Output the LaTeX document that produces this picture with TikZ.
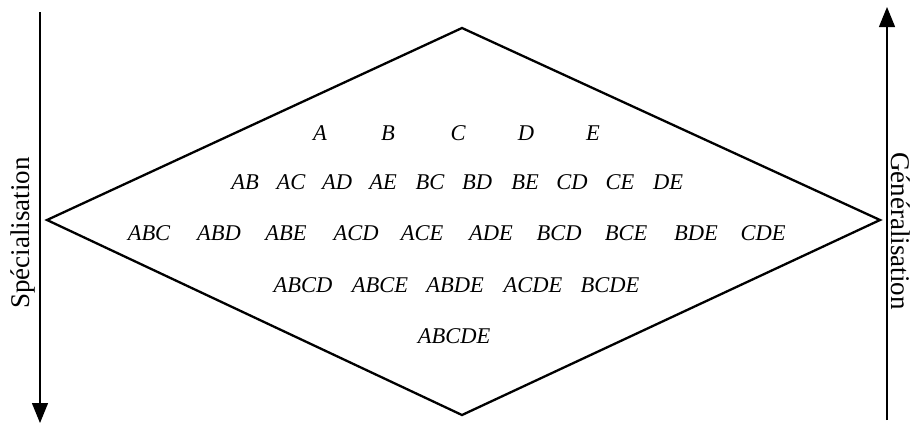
\documentclass[tikz,border=0pt]{standalone}
\usepackage{fontspec}
\setmainfont{Liberation Serif}
\usetikzlibrary{arrows.meta}

\begin{document}
\begin{tikzpicture}[
    x=1pt, y=-1pt,
    set/.style={font=\fontsize{22.5}{26}\selectfont\itshape, inner sep=0pt},
    side/.style={font=\fontsize{27}{31}\selectfont, inner sep=0pt, anchor=base},
    axis/.style={line width=1.3pt, -{Triangle[length=20pt, width=16pt]}},
    lattice/.style={line width=2.3pt, line join=miter}
]
\useasboundingbox (0,0) rectangle (912,424);

% Diamond
\coordinate (top) at (462,28);
\coordinate (right) at (880,220);
\coordinate (bottom) at (462,415);
\coordinate (left) at (47,220);
\draw[lattice] (top) -- (right) -- (bottom) -- (left) -- cycle;

% Itemsets, one row per size
\foreach \name/\x in {A/320, B/388, C/458, D/526, E/593}
  \node[set] (\name) at (\x,133) {\name};
\foreach \name/\x in {AB/245, AC/291, AD/337, AE/383, BC/430, BD/477, BE/525, CD/572, CE/620, DE/668}
  \node[set] (\name) at (\x,182) {\name};
\foreach \name/\x in {ABC/149, ABD/219, ABE/286, ACD/356, ACE/422, ADE/491, BCD/559, BCE/626, BDE/696, CDE/763}
  \node[set] (\name) at (\x,233) {\name};
\foreach \name/\x in {ABCD/303, ABCE/380, ABDE/455, ACDE/533, BCDE/610}
  \node[set] (\name) at (\x,285) {\name};
\node[set] (ABCDE) at (454,336) {ABCDE};

% Direction arrows
\coordinate (spec start) at (40,12);
\coordinate (spec end) at (40,423);
\coordinate (gen start) at (887,420);
\coordinate (gen end) at (887,7);
\draw[axis] (spec start) -- (spec end);
\draw[axis] (gen start) -- (gen end);

% Labels
\node[side, rotate=90] (spec) at (29,233) {Spécialisation};
\node[side, rotate=-90] (gen) at (891,231) {Généralisation};
\end{tikzpicture}
\end{document}
